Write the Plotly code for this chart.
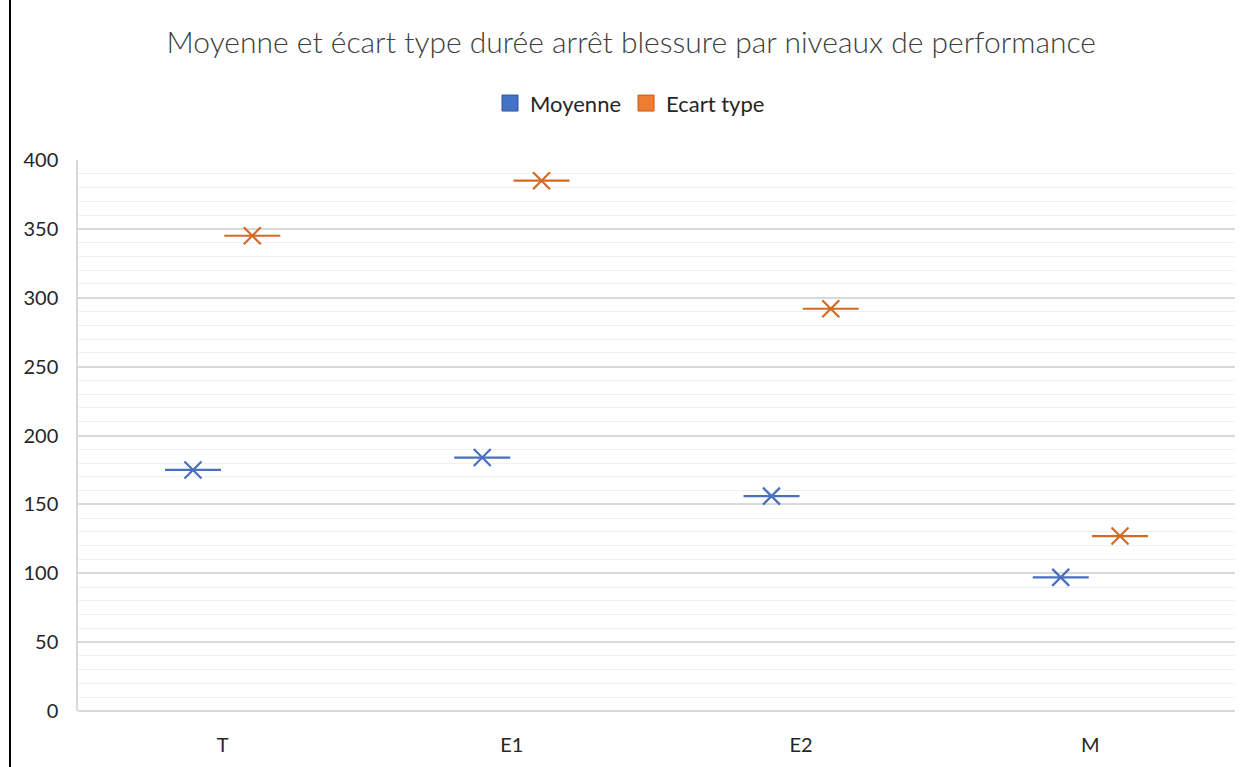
import plotly.graph_objects as go

categories = ["T", "E1", "E2", "M"]
moyenne = [175, 184, 156, 97]
ecart_type = [345, 385, 292, 127]
series_names = ["Moyenne", "Ecart type"]
title_text = "Moyenne et écart type durée arrêt blessure par niveaux de performance"

line_colors = ["#4A6FBF", "#D46A28"]
fill_colors = ["#4472C4", "#ED7D31"]
border_colors = ["#2F5597", "#C55A11"]
FONT = "Lato"

fig = go.Figure()
for i, (name, vals) in enumerate(zip(series_names, [moyenne, ecart_type])):
    grp = f"g{i}"
    fig.add_trace(go.Scatter(
        x=categories, y=vals, mode="markers", offsetgroup=grp, showlegend=False,
        marker=dict(symbol="line-ew", size=40, line=dict(color=line_colors[i], width=2.2)),
        hoverinfo="skip"))
    fig.add_trace(go.Scatter(
        x=categories, y=vals, mode="markers", offsetgroup=grp, showlegend=False,
        marker=dict(symbol="x-thin", size=17, line=dict(color=line_colors[i], width=2.2)),
        name=name))
    fig.add_trace(go.Scatter(
        x=[None], y=[None], mode="markers", name=name, offsetgroup=grp,
        marker=dict(symbol="square", size=20, color=fill_colors[i],
                    line=dict(color=border_colors[i], width=1))))

fig.update_layout(
    width=1250, height=767,
    paper_bgcolor="white", plot_bgcolor="white",
    margin=dict(l=78, r=15, t=160, b=56),
    scattermode="group", scattergap=0.59,
    font=dict(family=FONT, color="#404040"),
    title=dict(text=title_text, x=0.505, xanchor="center", y=0.945, yanchor="middle",
               font=dict(size=30, family=FONT, color="#404040", weight=300)),
    legend=dict(orientation="h", x=(630 - 78) / 1157, xanchor="center", y=1.103, yanchor="middle",
                font=dict(size=22, family=FONT, color="#262626"),
                itemsizing="trace", itemwidth=30, tracegroupgap=0),
    showlegend=True,
)
fig.update_xaxes(
    type="category", showgrid=False, zeroline=False,
    showline=False, ticks="", tickfont=dict(size=20, color="#262626", family=FONT),
    ticklabelstandoff=20,
)
fig.update_yaxes(
    range=[0, 400], dtick=50, showgrid=True, gridcolor="#D9D9D9", gridwidth=1.5,
    minor=dict(dtick=10, showgrid=True, gridcolor="#F0F0F0", gridwidth=1),
    zeroline=True, zerolinecolor="#D9D9D9", zerolinewidth=1.5,
    showline=True, linecolor="#D9D9D9", linewidth=1.5,
    ticks="", tickfont=dict(size=20, color="#262626", family=FONT),
    ticklabelstandoff=14,
)
# outer chart frame (left edge)
fig.add_shape(type="line", xref="paper", yref="paper",
              x0=(10 - 78) / 1157, x1=(10 - 78) / 1157, y0=-56 / 551, y1=1 + 160 / 551,
              line=dict(color="#000000", width=2))

fig.write_html("out.html", config={"displayModeBar": False},
               post_script="document.body.style.margin='0';document.body.style.overflow='hidden';")
